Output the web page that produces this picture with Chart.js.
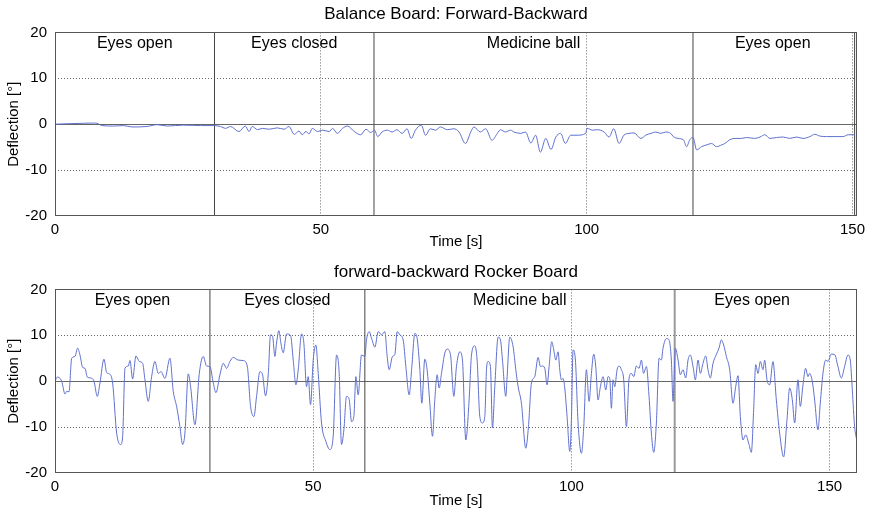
<!DOCTYPE html>
<html>
<head>
<meta charset="utf-8">
<title>Deflection</title>
<script src="https://cdn.jsdelivr.net/npm/chart.js@4.4.1/dist/chart.umd.min.js"></script>
<style>
  html, body { margin: 0; padding: 0; background: #fff; }
  #wrap { position: relative; width: 871px; height: 512px; }
  .panel { position: absolute; left: 0; width: 871px; height: 256px; }
</style>
</head>
<body>
<div id="wrap">
  <div class="panel" style="top:0"><canvas id="topChart" width="871" height="256"></canvas></div>
  <div class="panel" style="top:256px"><canvas id="bottomChart" width="871" height="256"></canvas></div>
</div>
<script>
// ---- data ----
const xTicks = [0, 50, 100, 150];
const yTicks = [-20, -10, 0, 10, 20];
const phaseLabels = ["Eyes open", "Eyes closed", "Medicine ball", "Eyes open"];
const phaseCenters = [15, 45, 90, 135];
const topPhaseBounds = [30, 60, 120, 150.4];
const bottomPhaseBounds = [30, 60, 120];

// Balance Board: Forward-Backward
const topTime = [0,2.2,5.3,7.2,7.9,8.8,11,12.9,14.5,17.3,19.2,21.1,24.2,27.4,29.9,31.1,32.1,33,34.6,35.8,
  36.5,37.1,38.1,39,40.3,41.8,43.1,44,45,45.9,46.5,47.2,47.8,48.4,49.4,50.3,51.6,52.2,53.1,54.1,
  55,56.3,57.5,58.5,59.4,60.1,60.7,
  61.5,62.5,63.4,64.3,65.3,66.2,67,67.8,68.9,69.7,70.6,71.6,72.5,73.8,75,76,77.2,78.2,78.8,80,
  81,82.2,83.2,83.8,84.7,85.7,86.3,87.6,88.5,89.5,90.4,91.3,92.3,93.3,94.2,95.1,96,97,98.2,99.8,
  100.1,101.1,102,103.3,104.2,105.1,106.1,107,108,108.9,110.2,111.1,112.1,113,113.9,114.9,115.8,
  116.3,117.2,118.2,118.8,119.4,120,120.7,121.6,122.6,123.5,124.4,125.4,126,126.9,127.9,129.1,130.1,
  131.6,132.6,133.5,134.5,135.7,137,138.2,139.5,140.7,142,142.9,143.9,145.1,146.7,148.2,149.2,150.4];
const topDeflection = [0,0.1,0.2,0.25,0.2,-0.3,-0.4,-0.3,-0.6,-0.5,-0.1,-0.4,-0.2,-0.3,-0.3,-0.5,-0.9,-0.5,-1.6,-0.4,
  -1.6,-0.5,-1.2,-0.9,-1.1,-0.8,-1.1,-0.5,-2.2,-1.5,-2.3,-1.6,-2.1,-0.9,-1.6,-1.3,-1.6,-0.9,-2,-0.9,
  -0.4,-1.6,-2.3,-1.1,-1.8,-1.3,-2.7,
  -1.7,-1.3,-1.7,-1.2,-2,-1,-3.1,-1.3,-0.2,-2.4,-1,-1.3,-0.6,-1.2,-1,-1.7,-4.2,-1.7,-0.6,-1.7,
  -1,-3.5,-2,-1.2,-1.7,-1.3,-1.7,-2,-1.7,-4.1,-2.4,-6.1,-3.1,-5.5,-2.8,-2,-4.2,-2.4,-2.4,-2,
  -0.9,-1.3,-1.2,-1.7,-2.8,-1,-4.2,-2.4,-2,-1.9,-3.1,-2.4,-2,-1.7,-2,-1.7,-2,
  -2.7,-3.1,-3.4,-4.9,-3.4,-2.9,-5.6,-4.9,-4.5,-4.2,-4.9,-4.5,-4.2,-3.4,-3.1,-3.1,-2.9,
  -3.1,-2.8,-2.3,-3.1,-2.9,-2.8,-3.1,-2.8,-3.1,-2.7,-2.2,-2.6,-2.7,-2.7,-2.7,-2.3,-2.3];

// forward-backward Rocker Board
const bottomTime = [0,0.45,1.29,1.94,2.26,2.71,3.23,3.87,4.39,4.84,
  5.35,5.81,6.26,6.9,7.55,8.19,8.71,9.48,10,10.52,
  11.16,11.94,12.71,13.1,13.55,14.19,14.52,15.03,15.68,16.32,
  16.97,17.42,18.06,18.71,19.35,20,20.52,21.29,22.26,22.9,
  23.55,24.19,24.71,25.16,25.81,26.26,27.1,27.94,28.71,29.35,
  30,30.65,31.16,31.94,32.58,33.23,33.87,34.52,35.48,36.45,
  37.23,37.87,38.52,39.03,39.68,40.19,40.77,41.29,41.74,42.13,
  42.58,42.9,43.35,43.74,44.19,44.84,45.61,46.13,46.65,47.1,
  47.74,48.19,48.71,49.03,49.48,50,50.52,50.97,51.61,52.45,
  53.23,53.87,54.52,55.03,55.48,55.94,56.45,56.97,57.42,57.87,
  58.26,58.71,59.35,60,60.32,60.84,61.29,61.94,62.58,63.23,
  63.87,64.32,64.71,65.35,65.81,66.26,66.77,67.42,67.94,68.58,
  69.1,69.68,70.13,70.65,71.03,71.61,72.06,
  72.58,73.1,73.55,74,74.39,74.84,75.48,75.94,76.58,77.23,
  77.74,78.39,78.9,79.55,80.19,80.65,81.29,81.74,82.26,82.77,
  83.23,83.55,83.87,84.32,84.71,85.16,85.81,86.26,86.65,87.29,
  87.55,88.06,88.71,89.23,89.68,90.32,91.16,91.68,92.26,92.9,
  93.55,94,94.39,94.84,95.29,95.68,96.19,96.58,96.97,97.42,
  97.74,98.06,98.39,98.71,99.16,99.68,100,100.32,100.77,101.29,
  101.94,102.39,102.9,103.42,103.87,104.32,104.71,105.16,105.61,106.13,
  106.65,107.1,107.42,107.74,108.06,108.39,108.84,109.23,109.68,110.13,
  110.65,111.16,111.61,112.06,112.58,113.1,113.55,113.97,114.52,115.03,
  115.48,115.94,116.45,116.97,117.42,117.74,118.39,118.9,119.35,119.68,
  120.13,120.65,121.1,121.61,122.13,122.58,123.03,123.55,124,124.52,
  124.97,125.48,126,126.45,126.9,127.42,128.06,128.58,129.03,129.48,
  130,130.65,131.29,131.81,132.26,132.71,133.23,133.74,134.39,134.84,
  135.29,135.68,136.13,136.58,137.1,137.42,137.87,138.39,139.03,139.68,
  140.32,141.1,141.74,142.26,142.77,143.23,143.87,144.32,144.84,145.35,
  145.81,146.13,146.65,147.1,147.74,148.19,148.71,149.23,149.68,150.32,
  150.97,151.61,152.26,152.9,153.55,154,154.39,154.84,155.29];
const bottomDeflection = [0,0.9,0,-2.8,-2.2,-2.3,5,5.4,7.2,5.7,
  3,2.8,0.9,0.7,0,-3.3,-0.4,4.8,1.9,1.6,
  -0.4,-11.3,-13.8,-12,2.8,3.3,4.5,0.5,5.5,4.3,
  3.9,0.3,-4.4,1,4.3,1.7,2.1,0.6,5,-2.2,
  -5.5,-9.9,-13.8,-11.3,1.6,-1.2,-9.5,1.7,5.4,3.3,
  3.2,-0.4,-2.5,1.4,3.9,2.8,4.3,5.2,4.6,4.5,
  3.3,-5.5,-7.7,-3.3,2.1,1.4,-3.2,1.4,10.1,9.8,
  5.4,8.3,11,8.3,6.2,10.3,10,4.6,-0.8,2.5,
  10.3,8.3,-1.2,1,-5.1,4.6,7.9,1.7,-9.1,-13.1,
  -14.9,-12,5.7,1.7,-13.8,-10.6,-3.3,-4,-8.8,-7.7,
  1,-3,5.7,5.4,9,10.8,9.4,7.4,10.8,10.1,
  10.8,5.4,2.5,5.4,5.8,10.8,10.1,9,3.2,-3,
  3.2,10.4,9.3,2.5,-4.8,4.8,2.5,
  -4.8,-12,-4,1.4,-1.5,1.7,6.1,7,5.8,-3.3,
  3.2,6.4,4.6,-12.8,-4.1,5.7,7.7,4.6,-7.7,-9.1,
  -7.7,2.5,4.3,3.2,-10.2,-1.2,9.6,9,4.6,-3.3,
  1,9.6,7.5,2.5,-1.2,-4.8,-14.6,-9.9,-0.4,1,
  5.2,3.2,3.3,2.8,-0.8,3.2,8.6,6.8,4.6,6.4,
  2.5,0.3,0.6,-1.5,-7.7,-15.3,-8.4,6.8,4.6,-9.1,
  -15.7,-9.9,2.5,-4.4,1.7,5.9,3.2,-4.1,-1.2,1,
  -1.9,1,0.6,-5.9,0.3,-1.2,2.5,3.3,2.5,0.3,
  -9.9,0.6,1.7,1,3.3,2.8,4.6,1.7,3.2,-3.3,
  -11.3,-15.5,-9.1,5,4.6,7.2,9.3,9,4.6,-4.4,
  7.2,4.6,1.4,2.5,0.7,4.6,5.7,3.2,0.3,4.6,
  1.7,3.9,5.5,2.5,0.7,3.9,5.8,7.2,9,7.9,
  5.4,2.5,-4.8,-1.2,1.2,-7.7,-12.8,-11.7,-13.8,-15.5,
  -6.2,3.6,1.7,4.3,2.5,4.6,0.3,-0.8,4.3,-4.1,
  -11.3,-16.5,-8.4,-1.5,-4,-9.1,0.3,-5.5,-0.8,2.8,
  1,1.7,-0.1,-4.1,-10.6,-4.8,1.7,4.6,4.3,5.9,
  5.8,3.2,0.7,3.2,5.7,4.6,-1.9,-9.9,-13.1];

const FONT = '"Liberation Sans", Arial, Helvetica, sans-serif';
const LINE_BLUE = "rgb(96, 113, 206)";

// frame round the plot area + phase names
const phasePlugin = {
    id: "phases",
    afterDatasetsDraw(chart) {
        const { ctx, chartArea, scales } = chart;
        ctx.save();
        ctx.strokeStyle = "#555";
        ctx.lineWidth = 1;
        ctx.strokeRect(Math.round(chartArea.left) + 0.5, Math.round(chartArea.top) + 0.5,
            Math.round(chartArea.width) - 1, Math.round(chartArea.height) - 1);
        ctx.fillStyle = "#000";
        ctx.font = "16px " + FONT;
        ctx.textAlign = "center";
        ctx.textBaseline = "middle";
        phaseLabels.forEach((label, i) => {
            ctx.fillText(label, scales.x.getPixelForValue(phaseCenters[i]), chartArea.top + 11);
        });
        ctx.restore();
    }
};

function makeChart(id, cfg) {
    const points = cfg.time.map((t, i) => ({ x: t, y: cfg.values[i] }));
    const boundSets = cfg.bounds.map(b => ({
        data: [{ x: b, y: -20 }, { x: b, y: 20 }],
        borderColor: (cfg.softBound === b) ? "#9a9a9a" : "#444",
        borderWidth: (cfg.softBound === b) ? 2 : 1,
        pointRadius: 0,
        order: 2
    }));

    return new Chart(document.getElementById(id), {
        type: "line",
        data: {
            datasets: [{
                data: points,
                borderColor: LINE_BLUE,
                borderWidth: 1,
                pointRadius: 0,
                cubicInterpolationMode: "monotone",
                order: 0
            }, ...boundSets]
        },
        options: {
            responsive: false,
            animation: false,
            events: [],
            layout: { padding: { left: 0, right: 14, top: 0, bottom: 0 } },
            plugins: {
                legend: { display: false },
                tooltip: { enabled: false },
                title: {
                    display: true,
                    fullSize: false,
                    text: cfg.title,
                    color: "#000",
                    font: { family: FONT, size: 17, weight: "normal" },
                    padding: cfg.titlePad
                }
            },
            scales: {
                x: {
                    type: "linear",
                    min: 0,
                    max: cfg.xMax,
                    afterBuildTicks: scale => { scale.ticks = xTicks.map(v => ({ value: v })); },
                    afterFit: scale => { scale.height = cfg.xAxisHeight; },
                    ticks: { color: "#000", font: { family: FONT, size: 15 }, padding: 5, maxRotation: 0 },
                    grid: {
                        drawTicks: false,
                        color: c => (c.tick && c.tick.value === 0) ? "rgba(0,0,0,0)" : "#666",
                        lineWidth: 1
                    },
                    border: { display: false, dash: [1, 2] },
                    title: {
                        display: true,
                        text: "Time [s]",
                        color: "#000",
                        font: { family: FONT, size: 15 },
                        padding: { top: 0, bottom: cfg.xTitlePad }
                    }
                },
                y: {
                    min: -20,
                    max: 20,
                    afterBuildTicks: scale => { scale.ticks = yTicks.map(v => ({ value: v })); },
                    afterFit: scale => { scale.width = 55; },
                    ticks: { color: "#000", font: { family: FONT, size: 15 }, padding: 8 },
                    grid: {
                        drawTicks: false,
                        color: c => {
                            const v = c.tick ? c.tick.value : null;
                            return (v === 20 || v === -20) ? "rgba(0,0,0,0)" : "#666";
                        },
                        lineWidth: 1
                    },
                    border: {
                        display: false,
                        dash: c => (c.tick && c.tick.value === 0) ? [] : [1, 2]
                    },
                    title: {
                        display: true,
                        text: "Deflection [°]",
                        color: "#000",
                        font: { family: FONT, size: 15 },
                        padding: { top: 5, bottom: 0 }
                    }
                }
            }
        },
        plugins: [phasePlugin]
    });
}

makeChart("topChart", {
    title: "Balance Board: Forward-Backward",
    titlePad: { top: 4, bottom: 8 },
    time: topTime,
    values: topDeflection,
    bounds: topPhaseBounds,
    xMax: 150.85,
    xAxisHeight: 40,
    xTitlePad: 5
});

makeChart("bottomChart", {
    title: "forward-backward Rocker Board",
    titlePad: { top: 6, bottom: 7 },
    time: bottomTime,
    values: bottomDeflection,
    bounds: bottomPhaseBounds,
    softBound: 120,
    xMax: 155.3,
    xAxisHeight: 39,
    xTitlePad: 2
});
</script>
</body>
</html>
